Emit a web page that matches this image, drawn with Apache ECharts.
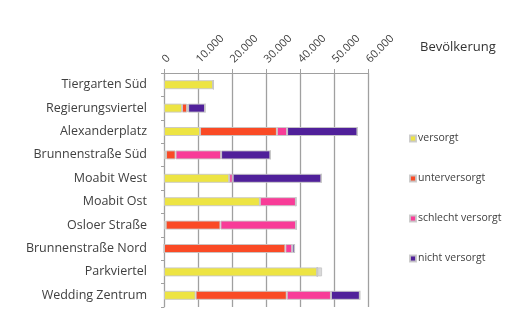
<!DOCTYPE html>
<html><head><meta charset="utf-8">
<script src="https://cdn.jsdelivr.net/npm/echarts@6/dist/echarts.min.js"></script>
<style>html,body{margin:0;padding:0;background:#fff}#c{width:513px;height:322px}</style>
</head><body><div id="c"></div>
<script>
const categories = ["Tiergarten Süd","Regierungsviertel","Alexanderplatz","Brunnenstraße Süd","Moabit West","Moabit Ost","Osloer Straße","Brunnenstraße Nord","Parkviertel","Wedding Zentrum"];
const versorgt        = [14500, 5300, 10600,   600, 19200, 28200,   500,     0, 45100,  9300];
const unterversorgt   = [    0, 1500, 22600,  2800,     0,     0, 16100, 35700,     0, 26800];
const schlechtVersorgt= [    0,  300,  3000, 13400,  1000, 10600, 22300,  2000,     0, 13000];
const nichtVersorgt   = [    0, 5000, 20700, 14500, 26100,     0,     0,   700,     0,  8500];
const sonstige        = [    0,    0,     0,     0,     0,     0,     0,     0,  1400,     0];
const xTicks = [0, 10000, 20000, 30000, 40000, 50000, 60000];
const seriesNames = ["versorgt","unterversorgt","schlecht versorgt","nicht versorgt"];
const colors = ["#EDE443","#FA4A25","#F83C98","#50209A"];

const font = "'Open Sans', sans-serif";
function fmt(v){ return String(v).replace(/\B(?=(\d{3})+(?!\d))/g, "."); }
const chart = echarts.init(document.getElementById('c'), null, {renderer:'canvas'});
const values = [versorgt, unterversorgt, schlechtVersorgt, nichtVersorgt];
const series = values.map((d,i)=>({
  name: seriesNames[i], type:'bar', stack:'total', data:d, barWidth:9,
  itemStyle:{color:colors[i], borderColor:'rgba(200,200,200,0.9)', borderWidth:1},
  silent:true
}));
series.push({name:'sonstige', type:'bar', stack:'total', data:sonstige, barWidth:9,
  itemStyle:{color:'#d9d9d9', borderColor:'rgba(200,200,200,0.9)', borderWidth:1}, silent:true});
chart.setOption({
  animation:false,
  textStyle:{fontFamily:font},
  title:{text:'Bevölkerung', left:415, top:36, textStyle:{fontFamily:font, fontSize:13, fontWeight:'normal', color:'#333'}},
  legend:{data:seriesNames, orient:'vertical', left:404, top:128, itemWidth:6, itemHeight:6, icon:'rect', itemGap:29,
    textStyle:{fontFamily:font, fontSize:10.5, color:'#404040', padding:[0,0,0,-3]}, selectedMode:false},
  grid:{left:164, top:73, width:204, height:234, containLabel:false},
  xAxis:{type:'value', position:'top', min:0, max:60000, interval:10000,
    axisLine:{show:true, lineStyle:{color:'#a0a0a0', width:1}},
    axisTick:{show:true, length:4, lineStyle:{color:'#a0a0a0'}},
    splitLine:{show:true, lineStyle:{color:'#a0a0a0', width:1.3}},
    axisLabel:{rotate:-45, margin:12, fontFamily:font, fontSize:11, color:'#404040', formatter:v=>fmt(v), customValues:xTicks}},
  yAxis:{type:'category', data:categories, inverse:true,
    axisLine:{show:true, lineStyle:{color:'#a0a0a0', width:1}},
    axisTick:{show:true, length:3, lineStyle:{color:'#a0a0a0'}},
    axisLabel:{fontFamily:font, fontSize:12.5, color:'#404040', margin:17}},
  series:series
});
</script></body></html>
